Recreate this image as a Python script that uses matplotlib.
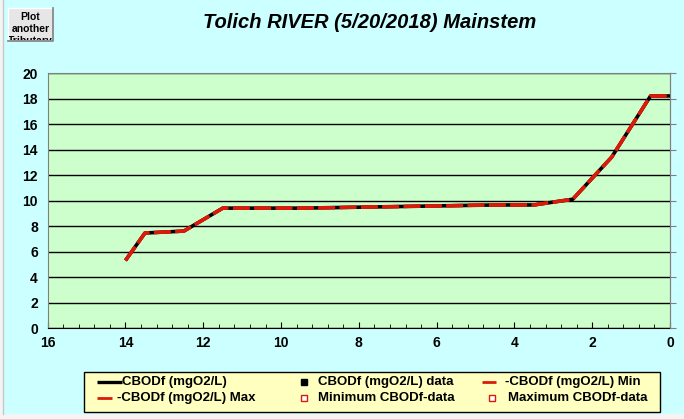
import matplotlib
matplotlib.use("Agg")
import matplotlib.pyplot as plt
from matplotlib.lines import Line2D
from matplotlib.patches import Rectangle
from matplotlib.ticker import MultipleLocator
from matplotlib.transforms import Bbox

# ---- data ----
dist_km = [14.0, 13.5, 12.5, 11.5, 10.5, 9.5, 8.5, 7.5, 6.5, 5.5, 4.5, 3.5, 2.5, 1.5, 0.5, 0.0]
cbod = [5.3, 7.45, 7.6, 9.4, 9.4, 9.4, 9.45, 9.5, 9.55, 9.6, 9.65, 9.65, 10.1, 13.4, 18.2, 18.2]
cbod_min = list(cbod)
cbod_max = list(cbod)
x_ticks = [16, 14, 12, 10, 8, 6, 4, 2, 0]
y_ticks = [0, 2, 4, 6, 8, 10, 12, 14, 16, 18, 20]
title = "Tolich RIVER (5/20/2018) Mainstem"
legend_labels = ["CBODf (mgO2/L)", "CBODf (mgO2/L) data", "-CBODf (mgO2/L) Min",
                 "-CBODf (mgO2/L) Max", "Minimum CBODf-data", "Maximum CBODf-data"]
button_lines = ["Plot", "another", "Tributary"]

W, H = 684, 419
RED = "#DD1A0A"
FONT = ["Liberation Sans", "DejaVu Sans"]


def fx(px):
    return px / W


def fy(py):
    return 1 - py / H


fig = plt.figure(figsize=(W / 100, H / 100), dpi=100)
fig.patch.set_facecolor("#F4F4F4")
fig.patches.append(Rectangle((fx(3), fy(414)), fx(W - 3), 414 / H,
                             transform=fig.transFigure, facecolor="#CCFFFF",
                             edgecolor="none", zorder=-5))
fig.lines.append(Line2D([fx(3), fx(3)], [fy(0), fy(414)], transform=fig.transFigure,
                        color="#C8C8C8", linewidth=1, zorder=-4))

ax = fig.add_axes([fx(47.7), fy(328), (670 - 47.7) / W, (328 - 73) / H])
ax.set_facecolor("#CCFFCC")
ax.set_xlim(16, 0)
ax.set_ylim(0, 20)
ax.set_xticks(x_ticks)
ax.set_yticks(y_ticks)
ax.xaxis.set_minor_locator(MultipleLocator(0.4))
ax.yaxis.grid(True, color="black", linewidth=1.0)
ax.set_axisbelow(True)
for s in ["left", "top", "right"]:
    ax.spines[s].set_color("#808080")
ax.spines["bottom"].set_color("black")
ax.tick_params(axis="x", which="both", direction="in", length=4, color="black",
               labelsize=10, pad=6)
ax.tick_params(axis="x", which="minor", length=3)
ax.tick_params(axis="y", which="both", length=0, labelsize=10, pad=7)
for lab in ax.get_xticklabels() + ax.get_yticklabels():
    lab.set_fontweight("bold")
    lab.set_family(FONT)

ax2 = ax.twinx()
ax2.set_ylim(0, 20)
ax2.set_yticks(y_ticks)
ax2.tick_params(axis="y", direction="out", length=4, color="#808080", labelright=False)
for s in ["left", "top", "bottom"]:
    ax2.spines[s].set_visible(False)
ax2.spines["right"].set_color("#808080")

ax.plot(dist_km, cbod, color="black", linewidth=2.6, solid_capstyle="butt", zorder=3)
ax.plot(dist_km, cbod_min, color=RED, linewidth=2.4, dashes=(5, 1.4), zorder=4)
ax.plot(dist_km, cbod_max, color=RED, linewidth=2.4, dashes=(5, 1.4), zorder=5)

fig.text(fx(370), fy(22), title, ha="center", va="center", fontsize=14.5,
         fontweight="bold", fontstyle="italic", family=FONT)

# button
fig.patches.append(Rectangle((fx(8), fy(41)), 45 / W, 33 / H, transform=fig.transFigure,
                             facecolor="#E6E6E6", edgecolor="none", zorder=1))
fig.lines.append(Line2D([fx(8), fx(8), fx(53)], [fy(41), fy(8), fy(8)],
                        transform=fig.transFigure, color="white", linewidth=1, zorder=2))
fig.lines.append(Line2D([fx(8), fx(53), fx(53)], [fy(41), fy(41), fy(8)],
                        transform=fig.transFigure, color="#808080", linewidth=1.2, zorder=2))
clip = Bbox.from_extents(9, H - 40, 52, H - 9)
for i, t in enumerate(button_lines):
    tt = fig.text(fx(30.5), fy(16.5 + i * 12.5), t, ha="center", va="center",
                  fontsize=7.5, fontweight="bold", family=FONT, zorder=3)
    tt.set_clip_box(clip)
    tt.set_clip_on(True)

# legend (drawn manually)
fig.patches.append(Rectangle((fx(84), fy(412)), (660 - 84) / W, 40 / H,
                             transform=fig.transFigure, facecolor="#FFFFC0",
                             edgecolor="black", linewidth=1, zorder=1))
row_y = [382, 398]
lprops = dict(fontsize=9.5, fontweight="bold", family=FONT, va="center", ha="left", zorder=3)


def leg_line(x0, x1, y, color, lw):
    fig.lines.append(Line2D([fx(x0), fx(x1)], [fy(y), fy(y)], transform=fig.transFigure,
                            color=color, linewidth=lw, solid_capstyle="butt", zorder=3))


def leg_marker(x, y, face, edge):
    fig.lines.append(Line2D([fx(x)], [fy(y)], transform=fig.transFigure, marker="s",
                            markersize=5, markerfacecolor=face, markeredgecolor=edge,
                            markeredgewidth=1, linestyle="none", zorder=3))


leg_line(97, 122, row_y[0], "black", 2.4)
fig.text(fx(122), fy(row_y[0]), legend_labels[0], **lprops)
leg_line(97, 112, row_y[1], RED, 2.0)
fig.text(fx(117), fy(row_y[1]), legend_labels[3], **lprops)
leg_marker(304, row_y[0], "black", "black")
fig.text(fx(318), fy(row_y[0]), legend_labels[1], **lprops)
leg_marker(304, row_y[1], "white", RED)
fig.text(fx(318), fy(row_y[1]), legend_labels[4], **lprops)
leg_line(482, 496, row_y[0], RED, 2.0)
fig.text(fx(505), fy(row_y[0]), legend_labels[2], **lprops)
leg_marker(492, row_y[1], "white", RED)
fig.text(fx(508), fy(row_y[1]), legend_labels[5], **lprops)

fig.savefig("out.png", dpi=100, facecolor=fig.get_facecolor())
